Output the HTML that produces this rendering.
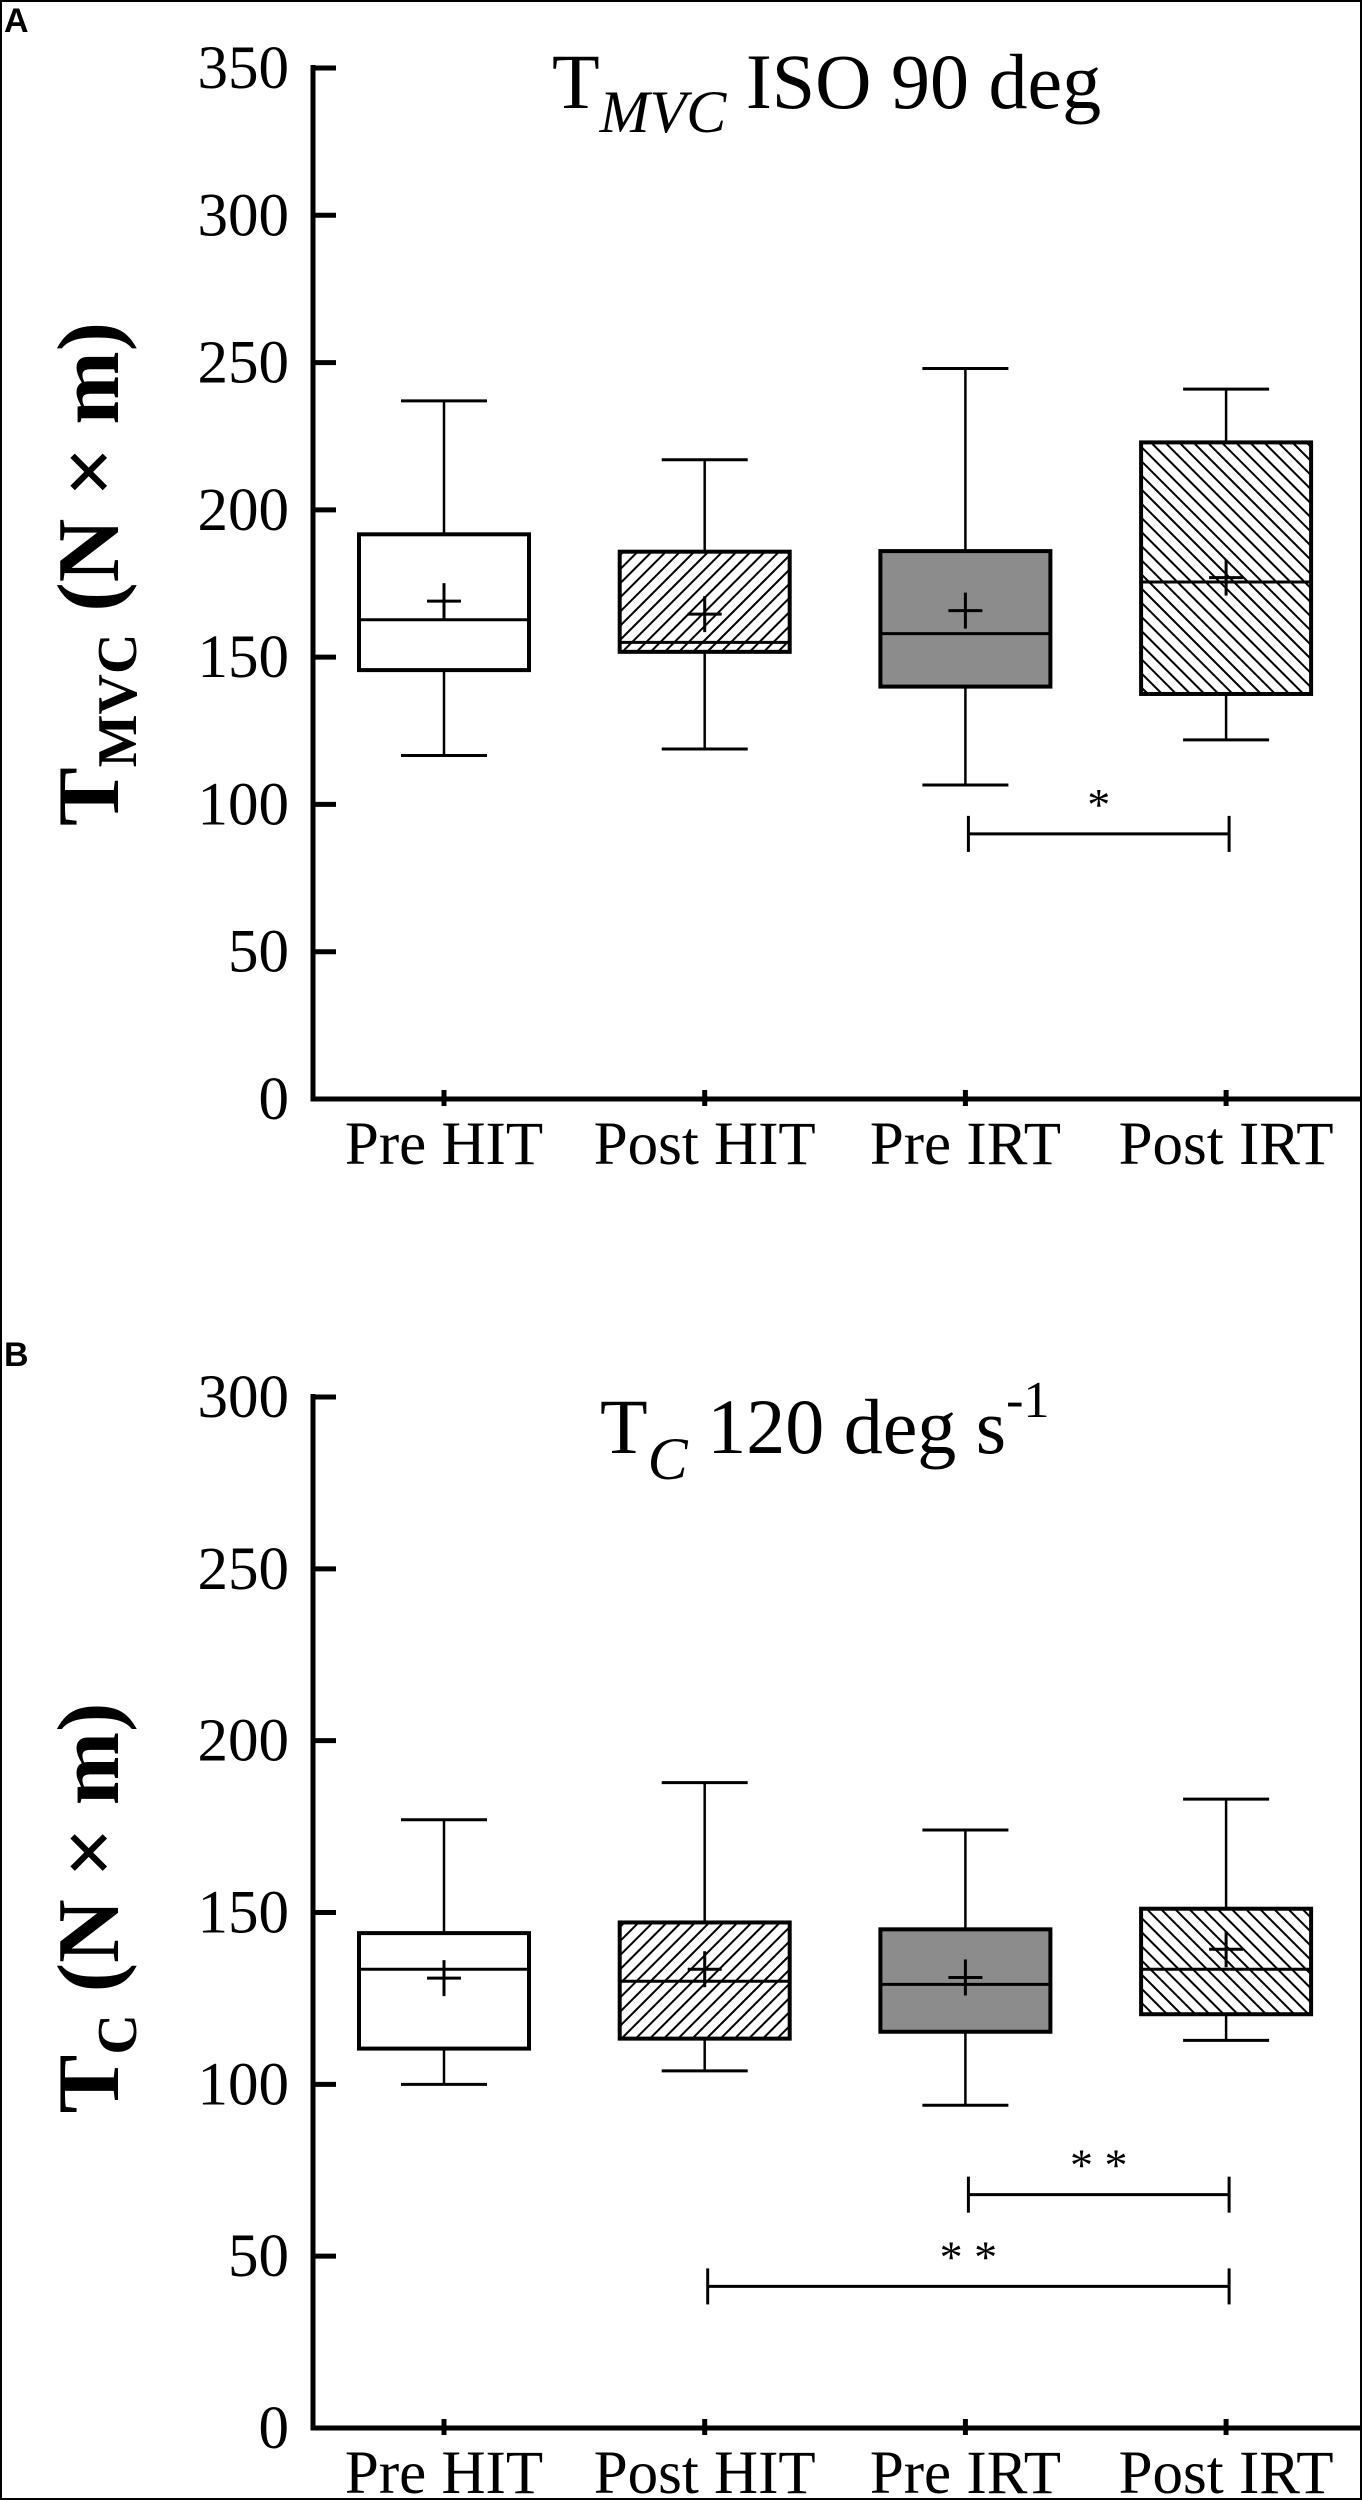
<!DOCTYPE html>
<html><head><meta charset="utf-8"><style>
html,body{margin:0;padding:0;background:#fff}
svg{display:block}
text,tspan{font-family:"Liberation Serif","Times New Roman",serif;fill:#000}
</style></head><body>
<svg id="fig" width="1362" height="2500" viewBox="0 0 1362 2500" xmlns="http://www.w3.org/2000/svg" font-family="Liberation Serif, serif">
<defs>
<pattern id="hatchF" patternUnits="userSpaceOnUse" width="10" height="10" patternTransform="rotate(45)">
<rect width="10" height="10" fill="#fff"/><line x1="0" y1="0" x2="0" y2="10" stroke="#000" stroke-width="4"/></pattern>
<pattern id="hatchB" patternUnits="userSpaceOnUse" width="10" height="10" patternTransform="rotate(-45)">
<rect width="10" height="10" fill="#fff"/><line x1="0" y1="0" x2="0" y2="10" stroke="#000" stroke-width="4"/></pattern>
</defs>
<rect x="1" y="1" width="1360" height="2498" fill="none" stroke="#000" stroke-width="2"/>
<text x="4" y="32" style="font-family:'Liberation Sans',sans-serif;font-weight:bold;font-size:34px">A</text>
<text x="4" y="1366" style="font-family:'Liberation Sans',sans-serif;font-weight:bold;font-size:34px">B</text>
<text x="552" y="108" font-size="78">T<tspan font-style="italic" font-size="60" dy="24">MVC</tspan><tspan dy="-24"> ISO 90 deg</tspan></text>
<text x="600" y="1453" font-size="78">T<tspan font-style="italic" font-size="60" dy="26">C</tspan><tspan dy="-26"> 120 deg s</tspan><tspan font-size="52" dy="-36">-1</tspan></text>
<text transform="translate(118,574) rotate(-90)" text-anchor="middle" font-size="88" font-weight="bold">T<tspan font-size="56" dy="18">MVC</tspan><tspan dy="-18"> (N × m)</tspan></text>
<text transform="translate(118,1908) rotate(-90)" text-anchor="middle" font-size="88" font-weight="bold">T<tspan font-size="56" dy="18">C</tspan><tspan dy="-18"> (N × m)</tspan></text>
<g id="pa"></g><g id="pb"></g>
</svg>
<script>
const categories = ["Pre HIT","Post HIT","Pre IRT","Post IRT"];
const fills = ["#fff","url(#hatchF)","#8c8c8c","url(#hatchB)"];
const aMin = [116.6,118.8,106.6,121.9];
const aQ1 = [145.6,151.8,140,137.5];
const aMed = [162.7,155,158,175.5];
const aQ3 = [191.7,185.8,186,222.9];
const aMax = [237,217,248,241];
const aMean = [169,164.6,165.8,177];
const aTicks = [0,50,100,150,200,250,300,350];
const aSig = [{from:2,to:3,y:90,label:"*"}];
const bMin = [100,103.9,93.9,112.8];
const bQ1 = [110.4,113.3,115.3,120.4];
const bMed = [133.5,130,129.1,133.5];
const bQ3 = [144,147.1,145.1,151.1];
const bMax = [177,187.8,174,183];
const bMean = [130.9,133.5,131.1,139.3];
const bTicks = [0,50,100,150,200,250,300];
const bSig = [{from:2,to:3,y:67.9,label:"* *"},{from:1,to:3,y:41.2,label:"* *"}];
const NS="http://www.w3.org/2000/svg";
function mk(g,tag,attrs){const e=document.createElementNS(NS,tag);for(const k in attrs)e.setAttribute(k,attrs[k]);g.appendChild(e);return e;}
const FF="Liberation Serif, serif";
function panel(gid,p,data){
  const g=document.getElementById(gid);
  const y=v=>p.y0-(v-p.vmin)*(p.y0-p.y1)/(p.vmax-p.vmin);
  const x=i=>444+i*260.7;
  let e=mk(g,'line',{x1:313,y1:p.y1-3,x2:313,y2:p.y0+2.5,stroke:'#000','stroke-width':5});
  
  
  e=mk(g,'line',{x1:310.5,y1:p.y0,x2:1360,y2:p.y0,stroke:'#000','stroke-width':5});
  
  
  p.ticks.forEach(t=>{
    e=mk(g,'line',{x1:313,y1:y(t),x2:336,y2:y(t),stroke:'#000','stroke-width':5});
    
    
    e=mk(g,'text',{x:289,y:y(t)+20,'text-anchor':'end','font-size':61,'font-family':FF});
    e.textContent=t;
    
    
  });
  categories.forEach((c,i)=>{
    const cx=x(i);
    e=mk(g,'line',{x1:cx,y1:p.y0-9,x2:cx,y2:p.y0+7,stroke:'#000','stroke-width':5});
    
    
    e=mk(g,'text',{x:cx,y:p.y0+65,'text-anchor':'middle','font-size':61,'font-family':FF});
    e.textContent=c;
    
    
    const bg=mk(g,'g',{});
    
    
    mk(bg,'line',{x1:cx,y1:y(data.max[i]),x2:cx,y2:y(data.q3[i]),stroke:'#000','stroke-width':2.5});
    mk(bg,'line',{x1:cx,y1:y(data.q1[i]),x2:cx,y2:y(data.min[i]),stroke:'#000','stroke-width':2.5});
    mk(bg,'line',{x1:cx-43,y1:y(data.max[i]),x2:cx+43,y2:y(data.max[i]),stroke:'#000','stroke-width':3});
    mk(bg,'line',{x1:cx-43,y1:y(data.min[i]),x2:cx+43,y2:y(data.min[i]),stroke:'#000','stroke-width':3});
    mk(bg,'rect',{x:cx-85,y:y(data.q3[i]),width:170,height:y(data.q1[i])-y(data.q3[i]),fill:fills[i],stroke:'#000','stroke-width':4});
    mk(bg,'line',{x1:cx-85,y1:y(data.med[i]),x2:cx+85,y2:y(data.med[i]),stroke:'#000','stroke-width':3});
    const my=y(data.mean[i]);
    mk(bg,'line',{x1:cx-17,y1:my,x2:cx+17,y2:my,stroke:'#000','stroke-width':3});
    mk(bg,'line',{x1:cx,y1:my-18,x2:cx,y2:my+18,stroke:'#000','stroke-width':3});
  });
  data.sig.forEach(s=>{
    const sg=mk(g,'g',{});
    
    
    const x1=x(s.from)+3,x2=x(s.to)+3,yy=y(s.y);
    mk(sg,'line',{x1:x1,y1:yy,x2:x2,y2:yy,stroke:'#000','stroke-width':3});
    mk(sg,'line',{x1:x1,y1:yy-18,x2:x1,y2:yy+18,stroke:'#000','stroke-width':3});
    mk(sg,'line',{x1:x2,y1:yy-18,x2:x2,y2:yy+18,stroke:'#000','stroke-width':3});
    const t=mk(sg,'text',{x:(x1+x2)/2,y:yy-14,'text-anchor':'middle','font-size':46,'font-family':FF});
    t.textContent=s.label;
  });
}
panel('pa',{y0:1099,y1:68,vmin:0,vmax:350,ticks:aTicks},{min:aMin,q1:aQ1,med:aMed,q3:aQ3,max:aMax,mean:aMean,sig:aSig});
panel('pb',{y0:2428,y1:1397,vmin:0,vmax:300,ticks:bTicks},{min:bMin,q1:bQ1,med:bMed,q3:bQ3,max:bMax,mean:bMean,sig:bSig});
</script>
</body></html>
